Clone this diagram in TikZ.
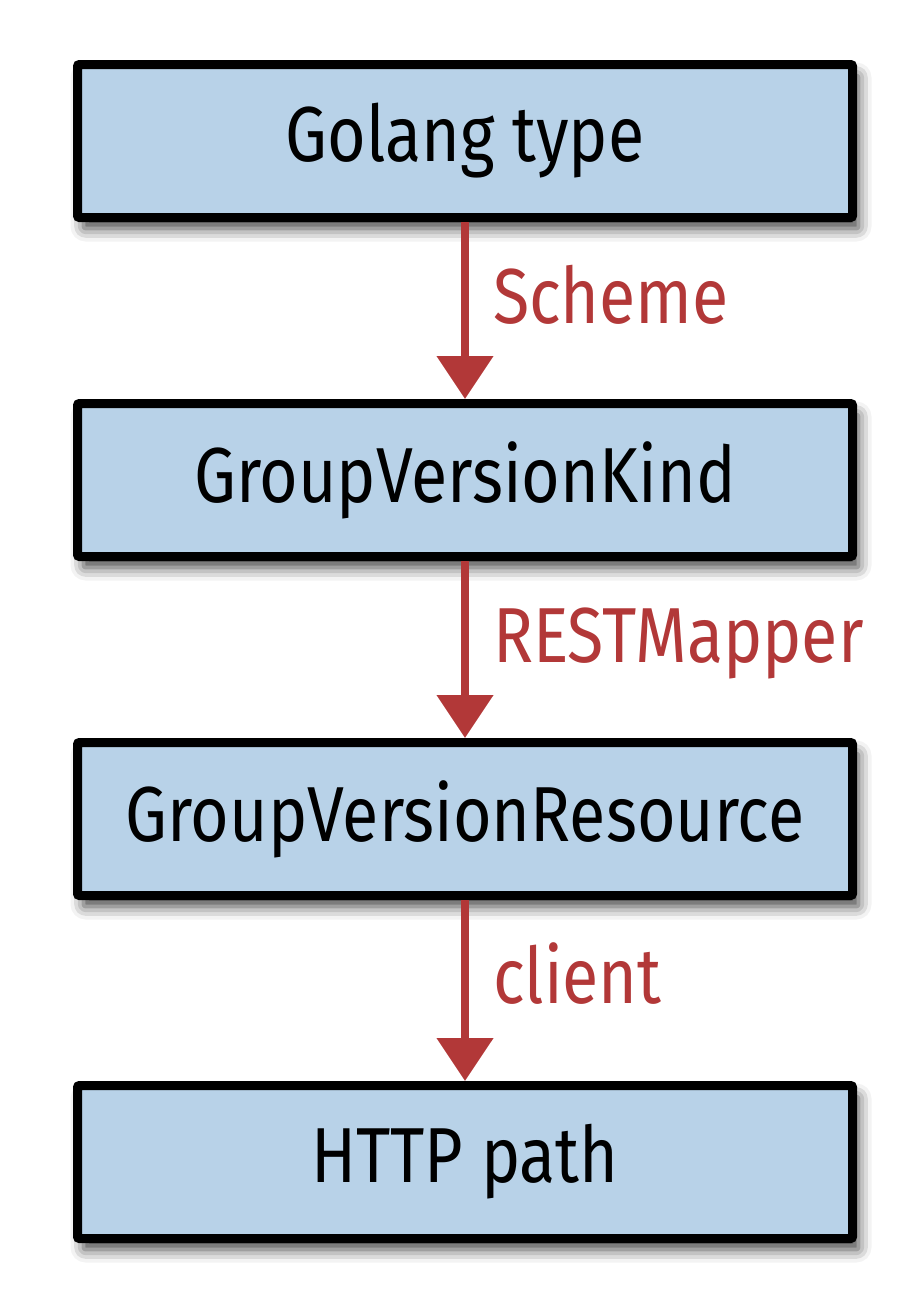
\documentclass[tikz,border=0pt]{standalone}
\usepackage{fontspec}
\setmainfont{Fira Sans}[FakeStretch=0.85]
\usetikzlibrary{arrows.meta,shadows.blur}
\definecolor{boxblue}{RGB}{184,210,232}
\definecolor{arrowred}{RGB}{178,56,56}
\tikzstyle{typebox}=[draw=black,line width=9pt,fill=boxblue,rounded corners=2pt,
  minimum width=775pt,minimum height=153pt,inner sep=0pt,
  font=\fontsize{78}{86}\selectfont,
  blur shadow={shadow xshift=6pt,shadow yshift=-11pt,shadow blur radius=13pt,shadow opacity=75}]
\tikzstyle{edge} = [draw,line width=8pt,arrowred,-{Triangle[width=55pt,length=43pt]}]
\tikzstyle{edge label} = [text=arrowred,anchor=west,inner sep=0pt,xshift=24pt,
  text height=54pt,text depth=0pt,font=\fontsize{78}{86}\selectfont]

\begin{document}
\begin{tikzpicture}[x=1pt,y=1pt]
    \useasboundingbox (0,0) rectangle (922,-1296);
	\foreach \pos/\name/\txt in {{(465,-141)/golang/Golang type}, {(465,-480)/gvk/GroupVersionKind},
                            {(465,-819)/gvr/GroupVersionResource}, {(465,-1162)/http/HTTP path}}
        \node[typebox] (\name) at \pos {\txt};
    \foreach \source/\dest/\via in {golang/gvk/Scheme, gvk/gvr/RESTMapper, gvr/http/client}
        \path[edge] (\source) -- node[edge label,pos=0.42] {\via} (\dest);
\end{tikzpicture}
\end{document}
